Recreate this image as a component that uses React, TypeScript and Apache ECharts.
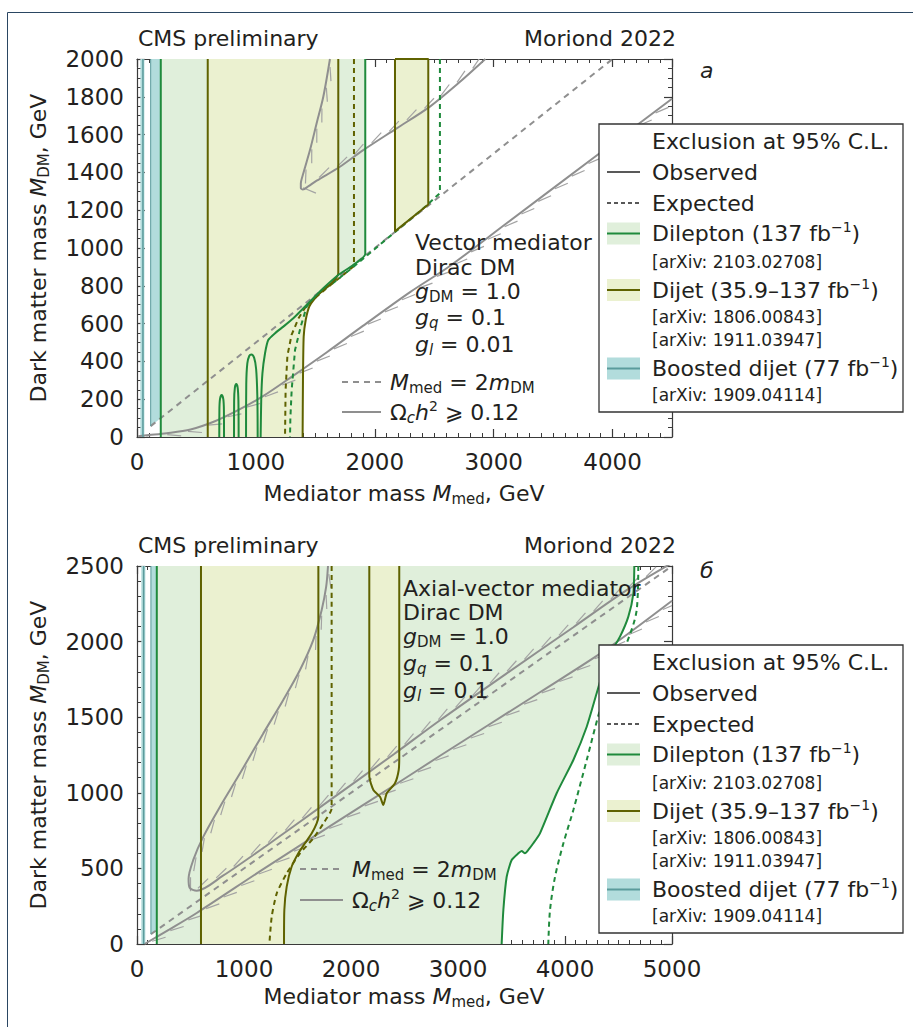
import React, { useEffect, useRef } from "react";
import * as echarts from "echarts";

const FONT = '"DejaVu Sans", "Noto Sans", sans-serif';
const INK = "#231f20";
const AXIS = "#3a3a3a";
const GREEN = "#1f8a3c";
const GREEN_FILL = "#e0efdb";
const OLIVE = "#5f6200";
const OLIVE_FILL = "#ebf1d0";
const TEAL = "#5b9b9c";
const TEAL_FILL = "#b2dcdc";
const GRAY = "#8f8f8f";
const HATCH = "#a3a3a3";

// ---------- axes ----------
const aXRange = [0, 4500];
const aXStep = 1000;
const aYRange = [0, 2000];
const aYStep = 200;
const bXRange = [0, 5000];
const bXStep = 1000;
const bYRange = [0, 2500];
const bYStep = 500;

// ---------- panel a : vector mediator ----------
const aDilepObsLeft = [[200, 0], [200, 2000]];
const aDilepObsRight = [[1920, 2000], [1920, 968], [1819, 910], [1693, 857], [1567, 787], [1483, 734], [1399, 681], [1315, 628], [1231, 584], [1161, 549], [1104, 513], [1077, 443], [1055, 337], [1045, 200], [1040, 0]];
const aDilepIsl1 = [[692, 0], [693, 140], [698, 200], [712, 222], [726, 200], [731, 140], [732, 0]];
const aDilepIsl2 = [[816, 0], [817, 190], [823, 260], [835, 280], [847, 260], [853, 190], [855, 0]];
const aDilepIsl3 = [[917, 0], [919, 280], [928, 390], [945, 430], [962, 437], [985, 420], [1002, 360], [1012, 220], [1015, 0]];
const aDilepExp = [[2548, 2000], [2548, 1290], [2400, 1205], [2200, 1100], [2000, 995], [1800, 890], [1650, 815], [1511, 752], [1427, 690], [1377, 584], [1329, 460], [1301, 249], [1290, 100], [1287, 0]];
const aDijetObsLeft = [[595, 0], [595, 2000]];
const aDijetObsRight = [[1693, 2000], [1693, 866], [1651, 822], [1567, 778], [1497, 734], [1449, 690], [1419, 619], [1402, 531], [1396, 300], [1393, 0]];
const aDijetIsland = [[2170, 2000], [2170, 1088], [2450, 1230], [2450, 2000]];
const aDijetExp = [[1825, 2000], [1825, 905], [1760, 870], [1650, 815], [1520, 748], [1420, 690], [1360, 630], [1300, 540], [1265, 430], [1250, 250], [1245, 0]];
const aBoostStrip = [[28, 0], [28, 2000], [62, 2000], [62, 0]];
const aBoostStripLine = [[50, 0], [50, 2000]];
const aBoostBand = [[115, 57.5], [115, 2000], [195, 2000], [195, 97.5]];
const aDiagonal = [[115, 57.5], [4000, 2000]];
const aRelicLow = [[10, 4], [100, 10], [250, 20], [450, 40], [650, 82], [850, 142], [1050, 212], [1300, 318], [1600, 450], [1900, 588], [2300, 768], [2632, 905], [3109, 1131], [3894, 1503], [4500, 1790]];
const aRelicNose = [[1623, 2000], [1567, 1800], [1511, 1660], [1455, 1518], [1399, 1395], [1378, 1340], [1378, 1318], [1395, 1310], [1440, 1326], [1511, 1356], [1707, 1430], [1903, 1518], [2184, 1633], [2464, 1748], [2700, 1870], [2930, 2000]];

// ---------- panel b : axial-vector mediator ----------
const bDilepObsLeft = [[185, 0], [185, 2500]];
const bDilepObsRight = [[4648, 2500], [4639, 2319], [4592, 2165], [4514, 2033], [4390, 1878], [4296, 1658], [4203, 1437], [4078, 1217], [3922, 997], [3766, 732], [3704, 666], [3657, 622], [3626, 600], [3595, 615], [3564, 600], [3502, 556], [3455, 445], [3424, 225], [3408, 0]];
const bDilepExp = [[4685, 2500], [4670, 2209], [4576, 1989], [4452, 1812], [4327, 1548], [4203, 1217], [4078, 886], [3985, 666], [3907, 445], [3860, 225], [3844, 0]];
const bDijetObsLeft = [[598, 0], [598, 2500]];
const bDijetObsRight = [[1695, 2500], [1695, 842], [1679, 798], [1633, 732], [1570, 666], [1508, 600], [1445, 511], [1399, 379], [1377, 225], [1374, 0]];
const bDijetIsland = [[2171, 2500], [2171, 1107], [2209, 1019], [2271, 974], [2302, 919], [2334, 997], [2411, 1063], [2446, 1151], [2451, 1239], [2451, 2500]];
const bDijetExp = [[1819, 2500], [1819, 897], [1742, 798], [1648, 699], [1523, 600], [1399, 467], [1306, 335], [1259, 181], [1237, 0]];
const bBoostStrip = [[40, 0], [40, 2500], [78, 2500], [78, 0]];
const bBoostStripLine = [[62, 0], [62, 2500]];
const bBoostBand = [[130, 65], [130, 2500], [180, 2500], [180, 90]];
const bDiagonal = [[130, 65], [5000, 2500]];
const bRelicLow = [[70, 0], [300, 95], [558, 205], [1180, 495], [1804, 780], [2427, 1060], [2832, 1245], [3766, 1665], [4390, 1950], [5000, 2270]];
const bRelicNose = [[1785, 2500], [1768, 2363], [1726, 2209], [1648, 2011], [1523, 1812], [1367, 1614], [1180, 1393], [963, 1129], [776, 908], [620, 710], [526, 556], [482, 430], [492, 372], [558, 352], [800, 450], [1200, 645], [1800, 950], [2400, 1255], [2832, 1480], [3455, 1790], [4078, 2095], [4576, 2340], [5000, 2520]];

// ---------- legend texts ----------
const legendRows = [
  { t: "{n|Exclusion at 95% C.L.}", s: 22, off: 17.5 },
  { t: "{n|Observed}", s: 22, off: 48 },
  { t: "{n|Expected}", s: 22, off: 79 },
  { t: "{n|Dilepton (137 fb}{sup|−1}{n|)}", s: 22, off: 109.5 },
  { t: "{n|[arXiv: 2103.02708]}", s: 17, off: 138 },
  { t: "{n|Dijet (35.9–137 fb}{sup|−1}{n|)}", s: 22, off: 166 },
  { t: "{n|[arXiv: 1806.00843]}", s: 17, off: 193 },
  { t: "{n|[arXiv: 1911.03947]}", s: 17, off: 216 },
  { t: "{n|Boosted dijet (77 fb}{sup|−1}{n|)}", s: 22, off: 244.5 },
  { t: "{n|[arXiv: 1909.04114]}", s: 17, off: 271 },
];

function rich(s: number) {
  const sub = Math.round(s * 0.66);
  const sup = Math.round(s * 0.62);
  const lh = s + 5;
  return {
    n: { fontSize: s, fontFamily: FONT, fill: INK, color: INK, lineHeight: lh, verticalAlign: "middle" },
    i: { fontSize: s, fontFamily: FONT, fontStyle: "italic", fill: INK, color: INK, lineHeight: lh, verticalAlign: "middle" },
    sub: { fontSize: sub, fontFamily: FONT, fill: INK, color: INK, lineHeight: sub, verticalAlign: "bottom" },
    subi: { fontSize: sub, fontFamily: FONT, fontStyle: "italic", fill: INK, color: INK, lineHeight: sub, verticalAlign: "bottom" },
    sup: { fontSize: sup, fontFamily: FONT, fill: INK, color: INK, lineHeight: sup, verticalAlign: "top" },
  };
}

function T(x: number, y: number, text: string, size = 22, align = "left", extra: any = {}) {
  return {
    type: "text",
    x,
    y,
    z: 100,
    ...extra,
    style: { text, fontSize: size, fontFamily: FONT, fill: INK, align, verticalAlign: "middle", lineHeight: size + 5, rich: rich(size) },
  };
}

function L(x1: number, y1: number, x2: number, y2: number, stroke: string, dash: any = null, w = 2) {
  return { type: "line", z: 100, shape: { x1, y1, x2, y2 }, style: { stroke, lineWidth: w, lineDash: dash } };
}

function legendBox(x0: number, y0: number) {
  const els: any[] = [];
  els.push({ type: "rect", z: 99, shape: { x: x0, y: y0, width: 304, height: 288 }, style: { fill: "#fff", stroke: "#333", lineWidth: 1.3 } });
  const sx1 = x0 + 8;
  const sx2 = x0 + 41;
  const r = (i: number) => y0 + legendRows[i].off;
  els.push(L(sx1, r(1), sx2, r(1), "#222", null, 1.6));
  els.push(L(sx1, r(2), sx2, r(2), "#222", [4, 3], 1.6));
  const sym = (i: number, fill: string, stroke: string) => {
    els.push({ type: "rect", z: 100, shape: { x: sx1, y: r(i) - 11, width: 33, height: 22 }, style: { fill } });
    els.push(L(sx1, r(i), sx2, r(i), stroke, null, 2));
  };
  sym(3, GREEN_FILL, GREEN);
  sym(5, OLIVE_FILL, OLIVE);
  sym(8, TEAL_FILL, TEAL);
  legendRows.forEach((row) => els.push(T(x0 + 53, y0 + row.off, row.t, row.s)));
  return els;
}

function poly(points: number[][], fill: string, ax: number, z = 1) {
  return {
    type: "custom",
    xAxisIndex: ax,
    yAxisIndex: ax,
    data: [[0, 0]],
    silent: true,
    z,
    clip: true,
    renderItem: (_p: any, api: any) => ({
      type: "polygon",
      shape: { points: points.map((p) => api.coord(p)) },
      style: { fill, stroke: "none" },
    }),
  };
}

function line(data: number[][], color: string, ax: number, dash: any = null, width = 2, smooth: any = false, z = 5) {
  return {
    type: "line",
    xAxisIndex: ax,
    yAxisIndex: ax,
    data,
    symbol: "none",
    showSymbol: false,
    smooth,
    silent: true,
    clip: true,
    z,
    lineStyle: { color, width, type: dash ? dash : "solid" },
  };
}

// feather-like hatching of the relic-density contours, drawn along the curve in pixel space
function hatch(points: number[][], side: number, ax: number) {
  return {
    type: "custom",
    xAxisIndex: ax,
    yAxisIndex: ax,
    data: [[0, 0]],
    silent: true,
    z: 4,
    clip: true,
    renderItem: (_p: any, api: any) => {
      const px = points.map((p) => api.coord(p));
      const children: any[] = [];
      let acc = 0;
      let next = 8;
      const step = 21;
      const len = 14;
      const ang = 0.24;
      for (let i = 0; i < px.length - 1; i++) {
        const [x0, y0] = px[i];
        const [x1, y1] = px[i + 1];
        const dx = x1 - x0;
        const dy = y1 - y0;
        const Ls = Math.hypot(dx, dy);
        if (Ls < 1e-6) continue;
        const tx = dx / Ls;
        const ty = dy / Ls;
        const nx = side * ty;
        const ny = -side * tx;
        while (next <= acc + Ls) {
          const t = next - acc;
          const sx = x0 + tx * t + nx * 1.5;
          const sy = y0 + ty * t + ny * 1.5;
          const ex = sx + (tx * Math.cos(ang) + nx * Math.sin(ang)) * len;
          const ey = sy + (ty * Math.cos(ang) + ny * Math.sin(ang)) * len;
          children.push({ type: "line", shape: { x1: sx, y1: sy, x2: ex, y2: ey }, style: { stroke: HATCH, lineWidth: 1.2 } });
          next += step;
        }
        acc += Ls;
      }
      return { type: "group", children };
    },
  };
}

function axisPair(range: number[], step: number, minor: number, grid: number, horizontal: boolean) {
  const common = {
    type: "value",
    gridIndex: grid,
    min: range[0],
    max: range[1],
    interval: step,
    splitLine: { show: false },
    axisLine: { show: true, onZero: false, lineStyle: { color: AXIS, width: 1.2 } },
    axisTick: { show: true, inside: true, length: 8, lineStyle: { color: AXIS, width: 1.2 } },
    minorTick: { show: true, splitNumber: minor, length: 4, lineStyle: { color: AXIS, width: 1 } },
  };
  const main = {
    ...common,
    position: horizontal ? "bottom" : "left",
    axisLabel: {
      show: true,
      fontSize: 23,
      fontFamily: FONT,
      color: INK,
      margin: 13,
      formatter: (v: number) => String(v),
      showMaxLabel: horizontal ? range[1] % step === 0 : true,
    },
  };
  const opp = { ...common, position: horizontal ? "top" : "right", axisLabel: { show: false } };
  return [main, opp];
}

export default function App() {
  const ref = useRef<HTMLDivElement>(null);
  useEffect(() => {
    if (!ref.current) return;
    const chart = echarts.init(ref.current, null, { renderer: "svg" });
    const aFillGreen = [...aDilepObsLeft, ...aDilepObsRight];
    const aFillDijet = [...aDijetObsLeft, ...aDijetObsRight];
    const bFillGreen = [...bDilepObsLeft, ...bDilepObsRight];
    const bFillDijet = [...bDijetObsLeft, ...bDijetObsRight];

    const series: any[] = [
      // panel a fills
      poly(aFillGreen, GREEN_FILL, 0, 1),
      poly(aFillDijet, OLIVE_FILL, 0, 2),
      poly(aDijetIsland, OLIVE_FILL, 0, 2),
      poly(aBoostStrip, TEAL_FILL, 0, 2),
      poly(aBoostBand, TEAL_FILL, 0, 2),
      // panel a lines
      line(aDiagonal, GRAY, 0, [6, 5], 2),
      hatch(aRelicLow, -1, 0),
      hatch(aRelicNose, 1, 0),
      line(aRelicLow, GRAY, 0, null, 2, 0.3),
      line(aRelicNose, GRAY, 0, null, 2, 0.3),
      line(aBoostStripLine, TEAL, 0, null, 1.5),
      line([aBoostBand[0], aBoostBand[1]], TEAL, 0, null, 1),
      line(aDijetExp, OLIVE, 0, [5, 4], 2),
      line(aDilepExp, GREEN, 0, [5, 4], 2),
      line(aDijetObsLeft, OLIVE, 0),
      line(aDijetObsRight, OLIVE, 0, null, 2, 0.2),
      line([...aDijetIsland, aDijetIsland[0]], OLIVE, 0),
      line(aDilepObsLeft, GREEN, 0),
      line(aDilepObsRight, GREEN, 0, null, 2, 0.2),
      line(aDilepIsl1, GREEN, 0, null, 2, 0.3),
      line(aDilepIsl2, GREEN, 0, null, 2, 0.3),
      line(aDilepIsl3, GREEN, 0, null, 2, 0.3),
      // panel b fills
      poly(bFillGreen, GREEN_FILL, 2, 1),
      poly(bFillDijet, OLIVE_FILL, 2, 2),
      poly(bDijetIsland, OLIVE_FILL, 2, 2),
      poly(bBoostStrip, TEAL_FILL, 2, 2),
      poly(bBoostBand, TEAL_FILL, 2, 2),
      // panel b lines
      line(bDiagonal, GRAY, 2, [6, 5], 2),
      hatch(bRelicLow, -1, 2),
      hatch(bRelicNose, 1, 2),
      line(bRelicLow, GRAY, 2, null, 2, 0.3),
      line(bRelicNose, GRAY, 2, null, 2, 0.3),
      line(bBoostStripLine, TEAL, 2, null, 1.5),
      line([bBoostBand[0], bBoostBand[1]], TEAL, 2, null, 1),
      line(bDijetExp, OLIVE, 2, [5, 4], 2, 0.2),
      line(bDilepExp, GREEN, 2, [5, 4], 2, 0.3),
      line(bDijetObsLeft, OLIVE, 2),
      line(bDijetObsRight, OLIVE, 2, null, 2, 0.2),
      line(bDijetIsland, OLIVE, 2, null, 2, 0.2),
      line(bDilepObsLeft, GREEN, 2),
      line(bDilepObsRight, GREEN, 2, null, 2, 0.2),
    ];

    const [ax0, ax1] = axisPair(aXRange, aXStep, 10, 0, true);
    const [ay0, ay1] = axisPair(aYRange, aYStep, 4, 0, false);
    const [bx0, bx1] = axisPair(bXRange, bXStep, 10, 1, true);
    const [by0, by1] = axisPair(bYRange, bYStep, 5, 1, false);

    const mMed = "{i|M}{sub|med}{n| = 2}{i|m}{sub|DM}";
    const omega = "{n|Ω}{subi|c}{i|h}{sup|2}{n| ⩾ 0.12}";

    const graphics: any[] = [
      { type: "rect", z: 0, shape: { x: 7.5, y: 12.5, width: 1000, height: 1100 }, style: { fill: "none", stroke: "#2a4662", lineWidth: 1 } },
      T(138, 38, "{n|CMS preliminary}"),
      T(676, 38, "{n|Moriond 2022}", 22, "right"),
      T(700, 70, "{i|а}"),
      T(138, 545, "{n|CMS preliminary}"),
      T(676, 545, "{n|Moriond 2022}", 22, "right"),
      T(700, 570, "{i|б}"),
      T(404, 493, "{n|Mediator mass }{i|M}{sub|med}{n|, GeV}", 22, "center"),
      T(404, 996, "{n|Mediator mass }{i|M}{sub|med}{n|, GeV}", 22, "center"),
      T(38, 248, "{n|Dark matter mass }{i|M}{sub|DM}{n|, GeV}", 22, "center", { rotation: Math.PI / 2 }),
      T(38, 755, "{n|Dark matter mass }{i|M}{sub|DM}{n|, GeV}", 22, "center", { rotation: Math.PI / 2 }),
      // panel a annotations
      T(415, 242, "{n|Vector mediator}"),
      T(415, 267, "{n|Dirac DM}"),
      T(415, 291, "{i|g}{sub|DM}{n| = 1.0}"),
      T(415, 317, "{i|g}{subi|q}{n| = 0.1}"),
      T(415, 344, "{i|g}{subi|l}{n| = 0.01}"),
      L(342, 382, 381, 382, GRAY, [6, 5], 2),
      T(390, 382, mMed),
      L(342, 412, 381, 412, GRAY, null, 2),
      T(390, 412, omega),
      // panel b annotations
      T(403, 588, "{n|Axial-vector mediator}"),
      T(403, 612, "{n|Dirac DM}"),
      T(403, 636, "{i|g}{sub|DM}{n| = 1.0}"),
      T(403, 663, "{i|g}{subi|q}{n| = 0.1}"),
      T(403, 690, "{i|g}{subi|l}{n| = 0.1}"),
      L(300, 869, 343, 869, GRAY, [6, 5], 2),
      T(352, 869, mMed),
      L(300, 900, 343, 900, GRAY, null, 2),
      T(352, 900, omega),
      ...legendBox(599, 124),
      ...legendBox(599, 645),
    ];

    chart.setOption({
      animation: false,
      backgroundColor: "#ffffff",
      grid: [
        { left: 137, top: 59, width: 535, height: 378, containLabel: false },
        { left: 137, top: 566, width: 535, height: 378, containLabel: false },
      ],
      xAxis: [ax0, ax1, bx0, bx1],
      yAxis: [ay0, ay1, by0, by1],
      series,
      graphic: { elements: graphics },
    });
    return () => chart.dispose();
  }, []);
  return <div ref={ref} style={{ position: "absolute", left: 0, top: 0, width: 913, height: 1027, background: "#fff" }} />;
}
